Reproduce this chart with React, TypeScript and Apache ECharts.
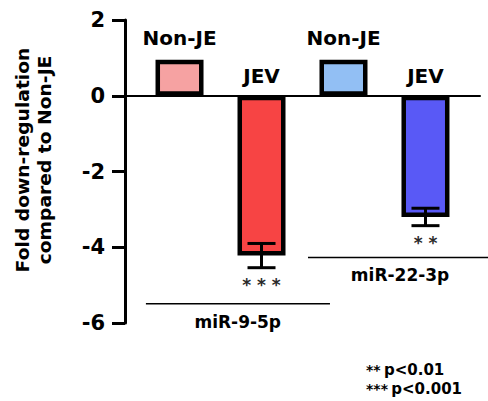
import React, { useEffect, useRef } from "react";
import * as echarts from "echarts";

// Bar positions on the x value axis, one per condition
const barPositions = [1, 2, 3, 4];
const conditions = ["Non-JE", "JEV", "Non-JE", "JEV"];
const foldChange = [0.95, -4.22, 0.95, -3.2];
const foldError = [0, 0.32, 0, 0.23];
const significance = ["", "***", "", "**"];

const groupNames = ["miR-9-5p", "miR-22-3p"];
// bracket under each miRNA pair: [xStart, xEnd, y] in axis units
const groupBrackets = [
  [0.59, 2.835, -5.49],
  [2.567, 4.8, -4.27],
];
// label under each bracket: [x, y] in axis units
const groupLabelPos = [
  [1.71, -5.97],
  [3.69, -4.72],
];

const yMin = -6;
const yMax = 2;
const yInterval = 2;

const pValueNotes = [
  ["**", "p<0.01"],
  ["***", "p<0.001"],
];

const barColors = ["#F6A2A2", "#F74444", "#92BFF4", "#5959F6"];
const FONT = "DejaVu Sans";

export default function App() {
  const ref = useRef<HTMLDivElement>(null);

  useEffect(() => {
    if (!ref.current) return;
    document.body.style.margin = "0";
    const chart = echarts.init(ref.current, undefined, { renderer: "svg" });

    const option: echarts.EChartsOption = {
      animation: false,
      backgroundColor: "#fff",
      grid: { left: 125, right: 8, top: 20, bottom: 78, containLabel: false },
      xAxis: {
        type: "value",
        min: 0.335,
        max: 4.665,
        axisLine: { show: true, onZero: true, lineStyle: { color: "#000", width: 2 } },
        axisTick: { show: false },
        axisLabel: { show: false },
        splitLine: { show: false },
      },
      yAxis: {
        type: "value",
        min: yMin,
        max: yMax,
        interval: yInterval,
        axisLine: { show: true, lineStyle: { color: "#000", width: 3 } },
        axisTick: { show: true, length: 13, lineStyle: { color: "#000", width: 3 } },
        axisLabel: {
          color: "#000",
          fontFamily: FONT,
          fontWeight: "bold",
          fontSize: 21,
          margin: 20,
        },
        splitLine: { show: false },
      },
      graphic: [
        {
          type: "text",
          x: 34,
          y: 160,
          rotation: Math.PI / 2,
          style: {
            text: "Fold down-regulation\ncompared to Non-JE",
            font: `bold 17px "${FONT}"`,
            fill: "#000",
            align: "center",
            verticalAlign: "middle",
            lineHeight: 22,
          },
          scaleX: 1.1,
        },
        ...pValueNotes.map((n, i) => ({
          type: "text" as const,
          left: 366,
          top: 362 + i * 19,
          style: {
            text: `{s|${n[0]}} {p|${n[1]}}`,
            rich: {
              s: { fontFamily: FONT, fontWeight: "bold" as const, fontSize: 14, fill: "#000" },
              p: { fontFamily: FONT, fontWeight: "bold" as const, fontSize: 15, fill: "#000" },
            },
          },
        })),
      ],
      series: [
        {
          type: "bar",
          barWidth: 48,
          data: barPositions.map((x, i) => ({
            value: [x, foldChange[i]],
            itemStyle: { color: barColors[i], borderColor: "#000", borderWidth: 4.5 },
          })),
          z: 2,
        },
        {
          // SEM whiskers
          type: "custom",
          z: 3,
          data: barPositions.map((x, i) => [x, foldChange[i], foldError[i]]),
          renderItem: (params: any, api: any) => {
            const x = api.value(0);
            const m = api.value(1);
            const e = api.value(2);
            if (!e) return null;
            const hi = api.coord([x, m + e]);
            const lo = api.coord([x, m - e]);
            const half = 14;
            const style = { stroke: "#000", lineWidth: 3 };
            return {
              type: "group",
              children: [
                { type: "line", shape: { x1: hi[0], y1: hi[1], x2: lo[0], y2: lo[1] }, style },
                { type: "line", shape: { x1: hi[0] - half, y1: hi[1], x2: hi[0] + half, y2: hi[1] }, style },
                { type: "line", shape: { x1: lo[0] - half, y1: lo[1], x2: lo[0] + half, y2: lo[1] }, style },
              ],
            };
          },
        },
        {
          // condition names above each bar / zero line, and significance stars
          type: "custom",
          z: 4,
          data: barPositions.map((x, i) => [x, foldChange[i], foldError[i]]),
          renderItem: (params: any, api: any) => {
            const i = params.dataIndex;
            const x = api.value(0);
            const m = api.value(1);
            const e = api.value(2);
            const top = api.coord([x, Math.max(m, 0)]);
            const children: any[] = [
              {
                type: "text",
                x: top[0],
                y: top[1] - (m > 0 ? 12 : 10),
                style: {
                  text: conditions[i],
                  font: `bold 20px "${FONT}"`,
                  fill: "#000",
                  align: "center",
                  verticalAlign: "bottom",
                },
              },
            ];
            if (significance[i]) {
              const lo = api.coord([x, m - e]);
              children.push({
                type: "text",
                x: lo[0],
                y: lo[1] + 9,
                style: {
                  text: significance[i].split("").join(" "),
                  font: `bold 17px "${FONT}"`,
                  fill: "#2a2a2a",
                  align: "center",
                  verticalAlign: "top",
                },
              });
            }
            return { type: "group", children };
          },
        },
        {
          // miRNA group brackets with their names
          type: "custom",
          z: 4,
          clip: false,
          data: groupBrackets.map((b) => [b[0], b[1], b[2]]),
          renderItem: (params: any, api: any) => {
            const i = params.dataIndex;
            const a = api.coord([api.value(0), api.value(2)]);
            const b = api.coord([api.value(1), api.value(2)]);
            const lp = api.coord(groupLabelPos[i]);
            return {
              type: "group",
              children: [
                {
                  type: "line",
                  shape: { x1: a[0], y1: a[1], x2: b[0], y2: b[1] },
                  style: { stroke: "#000", lineWidth: 1.5 },
                },
                {
                  type: "text",
                  x: lp[0],
                  y: lp[1],
                  style: {
                    text: groupNames[i],
                    font: `bold 17px "${FONT}"`,
                    fill: "#000",
                    align: "center",
                    verticalAlign: "middle",
                  },
                },
              ],
            };
          },
        },
      ],
    };

    chart.setOption(option);
    return () => chart.dispose();
  }, []);

  return <div ref={ref} style={{ width: 488, height: 401 }} />;
}
